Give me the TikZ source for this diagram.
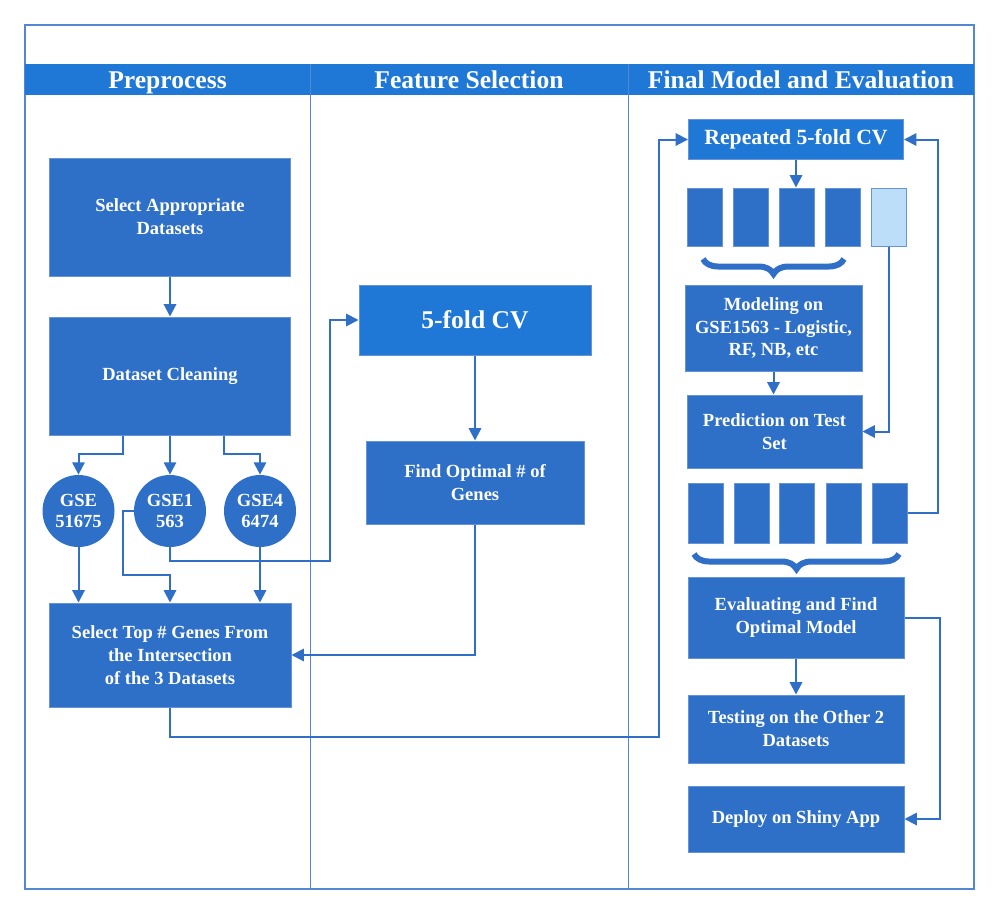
\documentclass[tikz,border=0pt]{standalone}
\usepackage{fontspec}
\setmainfont{Liberation Serif}
\usetikzlibrary{arrows.meta,decorations.pathreplacing}
\newlength{\du}
\setlength{\du}{0.566929pt}

\definecolor{diaboxcolor}{rgb}{0.180392, 0.435294, 0.784314}
\definecolor{diaheadcolor}{rgb}{0.121569, 0.470588, 0.835294}
\definecolor{dialinecolor}{rgb}{0.184314, 0.435294, 0.780392}
\definecolor{diaedgecolor}{rgb}{0.400000, 0.580000, 0.850000}
\definecolor{diapalecolor}{rgb}{0.737255, 0.870588, 0.972549}
\definecolor{diaframecolor}{rgb}{0.330000, 0.530000, 0.820000}

\begin{document}
\begin{tikzpicture}[x=1\du,y=-1\du,
  box/.style={rectangle,fill=diaboxcolor,draw=diaedgecolor,line width=1\du,text=white,
    font=\fontsize{10.5}{13}\selectfont\bfseries,align=center,inner sep=0pt},
  hot/.style={box,fill=diaheadcolor},
  gse/.style={circle,fill=diaboxcolor,text=white,font=\fontsize{10.5}{12}\selectfont\bfseries,
    align=center,minimum size=72\du,inner sep=0pt},
  fold/.style={box,minimum width=35\du,minimum height=58\du},
  head/.style={text=white,font=\fontsize{14.5}{17}\selectfont\bfseries,anchor=base,inner sep=0pt},
  arr/.style={draw=dialinecolor,line width=2\du,-{Triangle[length=7pt,width=7pt]}},
  wire/.style={draw=dialinecolor,line width=2\du},
  brc/.style={draw=dialinecolor,line width=6\du,decorate,decoration={brace,mirror,amplitude=8.5pt}}]
\useasboundingbox (0,0) rectangle (999,915);

% frame and lanes
\draw[diaframecolor,line width=1.5\du] (25,25) rectangle (974,889);
\fill[diaheadcolor] (25,64) rectangle (974,95);
\draw[diaframecolor,line width=1\du] (310,64) -- (310,889);
\draw[diaframecolor,line width=1\du] (628,64) -- (628,889);
\node[head] (hpre) at (167.5,88) {Preprocess};
\node[head] (hfeat) at (469,88) {Feature Selection};
\node[head] (hfinal) at (801,88) {Final Model and Evaluation};

% preprocess
\node[box,minimum width=241\du,minimum height=118\du] (selds) at (170,217) {Select Appropriate\\Datasets};
\node[box,minimum width=241\du,minimum height=118\du] (clean) at (170,376) {Dataset Cleaning};
\node[gse] (gseA) at (78.5,511) {GSE\\51675};
\node[gse] (gseB) at (170,511) {GSE1\\563};
\node[gse] (gseC) at (260,511) {GSE4\\6474};
\node[box,minimum width=242\du,minimum height=104\du] (topgenes) at (170,655) {Select Top \# Genes From\\the Intersection\\of the 3 Datasets};

% feature selection
\node[hot,minimum width=232\du,minimum height=70\du,font=\fontsize{14.5}{17}\selectfont\bfseries] (cvfive) at (475,320) {5-fold CV};
\node[box,minimum width=218\du,minimum height=83\du] (optgenes) at (475,482.5) {Find Optimal \# of\\Genes};

% final model
\node[hot,minimum width=215\du,minimum height=40\du,font=\fontsize{12.3}{15}\selectfont\bfseries] (repcv) at (796,139.5) {Repeated 5-fold CV};
\node[fold] (fa1) at (704.5,217) {};
\node[fold] (fa2) at (751,217) {};
\node[fold] (fa3) at (796.5,217) {};
\node[fold] (fa4) at (842.5,217) {};
\node[fold,fill=diapalecolor,draw=diaedgecolor] (fa5) at (889,217) {};
\draw[brc] (703,259) -- (844,259);
\node[box,minimum width=177\du,minimum height=86\du,font=\fontsize{10.5}{12.7}\selectfont\bfseries] (model) at (773.5,328) {Modeling on\\GSE1563 - Logistic,\\RF, NB, etc};
\node[box,minimum width=175\du,minimum height=73\du] (predict) at (774.5,431.5) {Prediction on Test\\Set};
\node[fold,minimum height=60\du] (fb1) at (705.5,513) {};
\node[fold,minimum height=60\du] (fb2) at (751.5,513) {};
\node[fold,minimum height=60\du] (fb3) at (797,513) {};
\node[fold,minimum height=60\du] (fb4) at (843.5,513) {};
\node[fold,minimum height=60\du] (fb5) at (889.5,513) {};
\draw[brc] (694,554) -- (899,554);
\node[box,minimum width=216\du,minimum height=81\du] (evalopt) at (796,617.5) {Evaluating and Find\\Optimal Model};
\node[box,minimum width=216\du,minimum height=68\du] (testing) at (796,729) {Testing on the Other 2\\Datasets};
\node[box,minimum width=216\du,minimum height=66\du] (deploy) at (796,819) {Deploy on Shiny App};

% connectors
\draw[arr] (selds.south) -- (clean.north);
\draw[arr] ([xshift=-47\du]clean.south) -- ++(0,18) -| (gseA.north);
\draw[arr] (clean.south) -- (gseB.north);
\draw[arr] ([xshift=54\du]clean.south) -- ++(0,18) -| (gseC.north);
\draw[arr] (gseA.south) -- (gseA.south |- topgenes.north);
\draw[arr] (gseC.south) -- (gseC.south |- topgenes.north);
\draw[arr] (gseB.west) -- ++(-11,0) |- ([yshift=28\du]topgenes.north) -- (topgenes.north);
\draw[arr] (gseB.south) -- ++(0,14) -| ([xshift=-29\du]cvfive.west) -- (cvfive.west);
\draw[arr] (cvfive.south) -- (optgenes.north);
\draw[arr] (optgenes.south) |- (topgenes.east);
\draw[arr] (topgenes.south) -- ++(0,29) -| ([xshift=-29\du]repcv.west) -- (repcv.west);
\draw[arr] (repcv.south) -- (repcv.south |- fa3.north);
\draw[arr] (model.south) -- (model.south |- predict.north);
\draw[arr] (fa5.south) |- (predict.east);
\draw[arr] (fb5.east) -- ++(30,0) |- (repcv.east);
\draw[arr] (evalopt.south) -- (testing.north);
\draw[arr] (evalopt.east) -- ++(35,0) |- (deploy.east);
\end{tikzpicture}
\end{document}
